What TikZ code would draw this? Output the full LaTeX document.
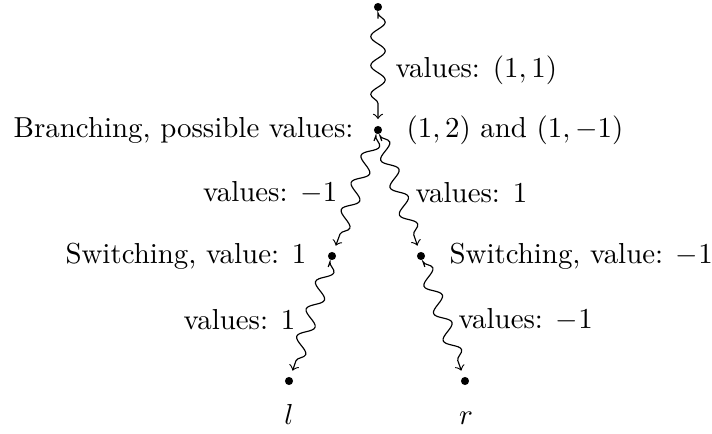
\documentclass[tikz,border=0pt]{standalone}
\usetikzlibrary{decorations.pathmorphing}
\begin{document}
\begin{tikzpicture}[x=0.346pt,y=-0.346pt,
  dotnode/.style={circle,fill=black,inner sep=0pt,minimum size=2.8pt},
  snakearrow/.style={->,decorate,decoration={snake,amplitude=2.5pt,segment length=10pt,pre length=0.5pt,post length=3.5pt},shorten <=2.4pt,shorten >=2.2pt},
  txt/.style={inner sep=0pt}]
\useasboundingbox (0,0) rectangle (712,434);
\node[dotnode] (t) at (378,7) {};
\node[dotnode] (b) at (378,130) {};
\node[dotnode] (sl) at (332,256) {};
\node[dotnode] (sr) at (421,256) {};
\node[dotnode] (l) at (289,381) {};
\node[dotnode] (r) at (465,381) {};
\node[txt,anchor=east] (bt) at (354,130) {Branching, possible values:};
\node[txt,anchor=west] (bv) at (406,130) {$(1,2)$ and $(1,-1)$};
\node[txt,anchor=east] (slt) at (307,256) {Switching, value: $1$};
\node[txt,anchor=west] (srt) at (449,256) {Switching, value: $-1$};
\node[txt,anchor=base] (lt) at (289,424) {$l$};
\node[txt,anchor=base] (rt) at (466,424) {$r$};
\draw[snakearrow] (t) -- (b);
\draw[snakearrow] (b) -- (sl);
\draw[snakearrow] (b) -- (sr);
\draw[snakearrow] (sl) -- (l);
\draw[snakearrow] (sr) -- (r);
\node[txt,anchor=west] (v1) at (395,70) {values: $(1,1)$};
\node[txt,anchor=east] (v2) at (338,193) {values: $-1$};
\node[txt,anchor=west] (v3) at (415,193) {values: $1$};
\node[txt,anchor=east] (v4) at (296,320) {values: $1$};
\node[txt,anchor=west] (v5) at (458,320) {values: $-1$};
\end{tikzpicture}
\end{document}
